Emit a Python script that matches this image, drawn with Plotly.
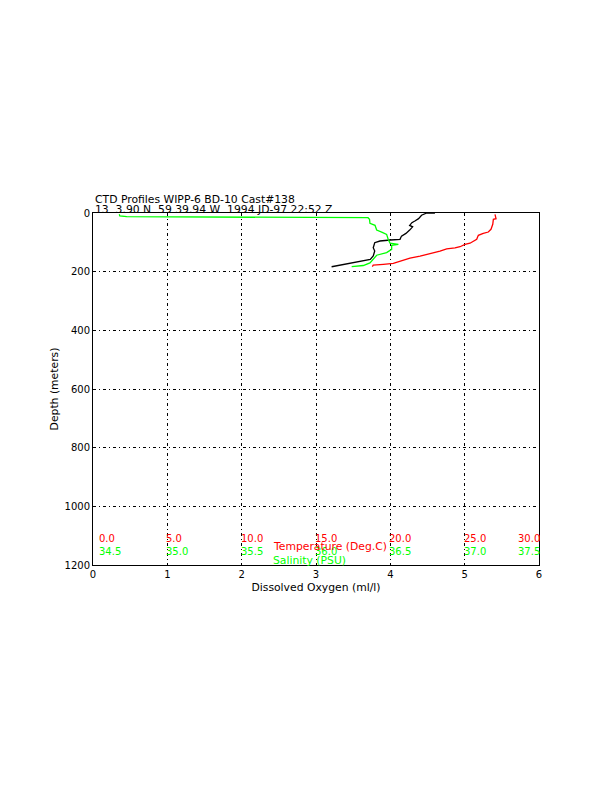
import plotly.graph_objects as go

# ---- data ----
oxy_depth = [0, 0, 7.7, 19.3, 27.3, 33.1, 42.3, 47.1, 58.3, 69.5, 78.7, 89.9, 92.1, 95.5,
             101.3, 118.3, 129.6, 146.6, 158, 164.8, 171.6, 177.4, 183.2]
oxy_val = [4.60, 4.49, 4.42, 4.38, 4.33, 4.29, 4.26, 4.30, 4.26, 4.21, 4.15, 4.13, 4.00, 3.86,
           3.79, 3.77, 3.79, 3.77, 3.73, 3.59, 3.46, 3.32, 3.21]

sal_depth = [4.4, 10, 12.6, 14, 16, 16, 21.5, 35, 42, 58, 65, 73, 90, 103, 107, 110, 124, 135,
             144, 158, 170, 179, 183]
sal_val = [34.677, 34.68, 34.727, 35.2, 36.027, 36.35, 36.36, 36.363, 36.397, 36.408, 36.442,
           36.475, 36.486, 36.498, 36.554, 36.509, 36.509, 36.475, 36.408, 36.385, 36.363,
           36.318, 36.24]

temp_depth = [4.4, 19.3, 21.5, 38.5, 55.5, 64.8, 69.2, 76, 89.6, 103, 107, 115, 119, 122, 130,
              139, 147, 154, 164, 172, 175, 178, 183]
temp_val = [27.04, 27.11, 26.93, 26.89, 26.77, 26.59, 26.25, 25.92, 25.81, 25.36, 25.02, 24.69,
            24.35, 23.79, 23.34, 22.67, 22.0, 21.32, 20.65, 20.20, 19.53, 18.85, 18.79]

oxy_ticks = [0, 1, 2, 3, 4, 5, 6]
depth_ticks = [0, 200, 400, 600, 800, 1000, 1200]
temp_ticks = [0.0, 5.0, 10.0, 15.0, 20.0, 25.0, 30.0]
sal_ticks = [34.5, 35.0, 35.5, 36.0, 36.5, 37.0, 37.5]

title1 = "CTD Profiles WIPP-6 BD-10 Cast#138"
title2 = "13&nbsp;&nbsp;3.90 N&nbsp;&nbsp;59 39.94 W&nbsp;&nbsp;1994 JD-97 22:52 Z"

FONT = "DejaVu Sans"
RED = "#ff0000"
GREEN = "#00ff00"
TXT = 10.8

fig = go.Figure()
fig.add_trace(go.Scatter(x=oxy_val, y=oxy_depth, mode="lines",
                         line=dict(color="black", width=1.3), xaxis="x", yaxis="y"))
fig.add_trace(go.Scatter(x=temp_val, y=temp_depth, mode="lines",
                         line=dict(color=RED, width=1.3), xaxis="x2", yaxis="y"))
fig.add_trace(go.Scatter(x=sal_val, y=sal_depth, mode="lines",
                         line=dict(color=GREEN, width=1.3), xaxis="x3", yaxis="y"))

annotations = []
annotations.append(dict(text=title1, xref="paper", yref="paper", x=0, y=1.0, yshift=14,
                        xanchor="left", yanchor="middle", showarrow=False,
                        font=dict(family=FONT, size=TXT, color="black")))
annotations.append(dict(text=title2, xref="paper", yref="paper", x=0, y=1.0, yshift=4,
                        xanchor="left", yanchor="middle", showarrow=False,
                        font=dict(family=FONT, size=TXT, color="black")))

n = len(temp_ticks)
for i, (t, s) in enumerate(zip(temp_ticks, sal_ticks)):
    if i == 0:
        anchor, shift = "left", 4
    elif i == n - 1:
        anchor, shift = "right", 3
    else:
        anchor, shift = "left", -3
    annotations.append(dict(text="%.1f" % t, xref="x2", yref="y", x=t, y=1110,
                            xanchor=anchor, xshift=shift, yanchor="middle", showarrow=False,
                            font=dict(family=FONT, size=10, color=RED)))
    annotations.append(dict(text="%.1f" % s, xref="x3", yref="y", x=s, y=1155,
                            xanchor=anchor, xshift=shift, yanchor="middle", showarrow=False,
                            font=dict(family=FONT, size=10, color=GREEN)))

annotations.append(dict(text="Temperature (Deg.C)", xref="x", yref="y", x=2.4, y=1138,
                        xanchor="left", yanchor="middle", showarrow=False,
                        font=dict(family=FONT, size=TXT, color=RED)))
annotations.append(dict(text="Salinity (PSU)", xref="x", yref="y", x=2.4, y=1183,
                        xanchor="left", yanchor="middle", showarrow=False,
                        font=dict(family=FONT, size=TXT, color=GREEN)))

grid = dict(showgrid=True, gridcolor="black", gridwidth=1, griddash="3px,3px,1px,3px")

fig.update_layout(
    width=612, height=792,
    margin=dict(l=85, r=81, t=205, b=235, pad=0),
    paper_bgcolor="white", plot_bgcolor="white",
    showlegend=False,
    font=dict(family=FONT, size=10, color="black"),
    xaxis=dict(range=[0, 6], tickvals=oxy_ticks, ticktext=[str(v) for v in oxy_ticks],
               showline=True, linecolor="black", linewidth=1, mirror=True,
               zeroline=False, ticks="", ticklen=0,
               title=dict(text="Dissolved Oxygen (ml/l)", standoff=4,
                          font=dict(family=FONT, size=TXT)),
               tickfont=dict(family=FONT, size=10), **grid),
    xaxis2=dict(range=[0, 30], overlaying="x", visible=False, showgrid=False),
    xaxis3=dict(range=[34.5, 37.5], overlaying="x", visible=False, showgrid=False),
    yaxis=dict(range=[1200, 0], tickvals=depth_ticks, ticktext=[str(v) for v in depth_ticks],
               showline=True, linecolor="black", linewidth=1, mirror=True,
               zeroline=False, ticks="", ticklen=0,
               title=dict(text="Depth (meters)", standoff=3,
                          font=dict(family=FONT, size=TXT)),
               tickfont=dict(family=FONT, size=10), **grid),
    annotations=annotations,
)

fig.write_html("out.html")
